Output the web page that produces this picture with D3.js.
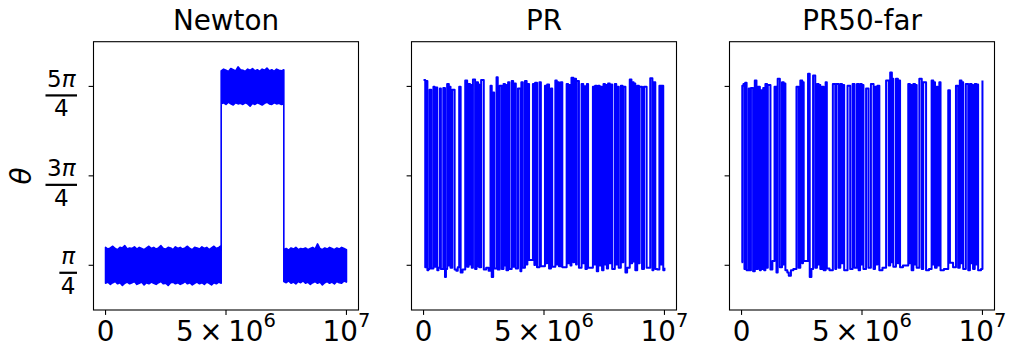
<!DOCTYPE html>
<html><head><meta charset="utf-8">
<script src="https://cdn.jsdelivr.net/npm/d3@7"></script>
<style>body{margin:0;background:#fff} text{font-family:"DejaVu Sans",sans-serif;fill:#000}</style>
</head><body><svg id="c" width="1010" height="347"></svg>
<script>
// ---------- data ----------
const titles = ["Newton", "PR", "PR50-far"];
const xTicks = [0, 5e6, 1e7];
const xTickMain = ["0", "5\u2009×\u200910", "10"];
const xTickSup = ["", "6", "7"];
const yTicks = [Math.PI / 4, 3 * Math.PI / 4, 5 * Math.PI / 4];
const yTickNumDigit = ["", "3", "5"];
const yTickDen = ["4", "4", "4"];
const yLabel = "θ";

// Newton: noisy band envelope (t in units of 1e6, θ low / high)
const newtonT = [0,0.1,0.2,0.3,0.4,0.5,0.6,0.7,0.8,0.9,1.0,1.1,1.2,1.3,1.4,1.5,1.6,1.7,1.8,1.9,2.0,2.1,2.2,2.3,2.4,2.5,2.6,2.7,2.8,2.9,
  3.0,3.1,3.2,3.3,3.4,3.5,3.6,3.7,3.8,3.9,4.0,4.1,4.2,4.3,4.4,4.5,4.6,4.7,4.8,
  4.8,4.9,5.0,5.1,5.2,5.3,5.4,5.5,5.6,5.7,5.8,5.9,6.0,6.1,6.2,6.3,6.4,6.5,6.6,6.7,6.8,6.9,7.0,7.1,7.2,7.3,7.4,
  7.4,7.5,7.6,7.7,7.8,7.9,8.0,8.1,8.2,8.3,8.4,8.5,8.6,8.7,8.8,8.9,9.0,9.1,9.2,9.3,9.4,9.5,9.6,9.7,9.8,9.9,10.0];
const newtonHi = [1.10,1.07,1.09,1.12,1.08,1.06,1.10,1.09,1.13,1.07,1.09,1.08,1.11,1.07,1.10,1.08,1.06,1.09,1.12,1.08,
  1.10,1.07,1.09,1.13,1.08,1.07,1.10,1.09,1.06,1.11,1.08,1.10,1.07,1.09,1.12,1.08,1.06,1.10,1.09,1.07,
  1.11,1.08,1.10,1.06,1.09,1.12,1.08,1.10,1.13,
  4.20,4.23,4.21,4.19,4.24,4.22,4.20,4.27,4.22,4.21,4.19,4.23,4.21,4.24,4.20,4.22,4.19,4.23,4.21,4.25,
  4.20,4.22,4.19,4.23,4.21,4.20,4.22,
  1.06,1.08,1.05,1.09,1.07,1.10,1.06,1.08,1.07,1.09,1.06,1.08,1.10,1.07,1.16,1.08,1.06,1.09,1.07,1.10,
  1.08,1.06,1.09,1.07,1.10,1.08,1.06];
const newtonLo = [0.47,0.49,0.45,0.48,0.50,0.46,0.48,0.43,0.47,0.49,0.46,0.48,0.50,0.45,0.47,0.49,0.44,0.48,0.46,0.49,
  0.47,0.45,0.48,0.50,0.46,0.47,0.43,0.48,0.49,0.46,0.48,0.45,0.47,0.50,0.46,0.48,0.44,0.47,0.49,0.46,
  0.48,0.45,0.49,0.47,0.44,0.48,0.46,0.49,0.47,
  3.62,3.64,3.61,3.65,3.62,3.60,3.64,3.62,3.63,3.61,3.64,3.62,3.58,3.63,3.61,3.64,3.62,3.60,3.63,3.65,
  3.62,3.61,3.64,3.62,3.63,3.61,3.62,
  0.50,0.48,0.51,0.47,0.49,0.46,0.50,0.48,0.51,0.47,0.49,0.45,0.48,0.50,0.47,0.49,0.44,0.48,0.50,0.47,
  0.49,0.46,0.50,0.48,0.47,0.51,0.49];

// PR: [t (1e6), θ]
const prPoints = [[0.00,4.04],[0.07,0.75],[0.12,4.02],[0.16,0.70],[0.20,0.72],[0.25,3.87],[0.32,0.73],[0.41,3.92],[0.46,0.76],
[0.52,3.91],[0.57,0.70],[0.62,0.74],[0.68,3.89],[0.72,0.72],[0.82,3.90],[0.89,0.58],[0.93,0.72],[0.98,3.97],[1.05,0.78],
[1.08,3.92],[1.12,0.74],[1.19,3.87],[1.29,0.71],[1.36,0.69],[1.42,0.75],[1.48,3.92],[1.54,0.66],[1.62,0.71],[1.73,4.03],
[1.81,0.76],[1.87,3.97],[1.93,0.80],[1.96,3.95],[2.00,0.74],[2.05,4.05],[2.14,0.72],[2.20,4.00],[2.26,0.77],[2.28,3.96],
[2.31,0.75],[2.39,4.04],[2.50,0.71],[2.60,0.74],[2.70,0.69],[2.78,3.94],[2.83,0.58],[2.89,3.82],[2.93,0.73],[3.03,4.09],
[3.08,0.71],[3.16,3.94],[3.25,0.72],[3.32,3.97],[3.38,0.78],[3.40,3.95],[3.44,0.70],[3.51,4.00],[3.56,0.72],[3.66,4.02],
[3.72,0.76],[3.76,3.98],[3.83,0.73],[3.92,3.89],[4.02,0.68],[4.06,4.00],[4.12,0.74],[4.21,4.02],[4.28,0.80],[4.31,3.97],
[4.38,0.88],[4.54,3.97],[4.60,0.79],[4.63,3.99],[4.71,0.75],[4.81,4.00],[4.87,0.77],[5.04,3.94],[5.10,0.82],[5.13,3.96],
[5.21,0.73],[5.29,3.89],[5.34,0.76],[5.47,4.03],[5.53,0.80],[5.56,4.00],[5.62,0.77],[5.70,4.00],[5.76,0.75],[5.94,3.97],
[6.00,0.82],[6.03,3.95],[6.10,0.78],[6.14,4.08],[6.22,0.84],[6.25,4.06],[6.33,0.80],[6.36,4.02],[6.45,0.74],[6.56,3.97],
[6.63,0.82],[6.66,3.93],[6.72,0.72],[6.78,3.97],[6.83,0.74],[7.03,3.92],[7.09,0.80],[7.12,3.94],[7.19,0.68],[7.25,3.94],
[7.31,0.78],[7.34,3.92],[7.41,0.70],[7.47,3.97],[7.53,0.80],[7.56,3.95],[7.61,0.73],[7.66,3.98],[7.73,0.82],[7.76,3.96],
[7.83,0.72],[7.94,3.97],[8.00,0.80],[8.03,3.92],[8.10,0.74],[8.19,3.94],[8.26,0.84],[8.29,3.92],[8.38,0.66],[8.45,0.74],
[8.56,4.05],[8.63,0.82],[8.66,4.00],[8.72,0.85],[8.75,3.98],[8.79,0.70],[8.87,3.94],[8.94,0.82],[8.97,3.92],[9.07,0.72],
[9.15,3.92],[9.26,0.74],[9.41,4.07],[9.50,0.70],[9.54,4.00],[9.62,0.72],[9.70,0.71],[9.79,3.94],[9.85,0.80],[9.88,3.94],
[9.95,0.70],[10.00,0.74]];

// PR50-far: [t (1e6), θ]
const pr50Points = [[0.00,0.84],[0.03,3.94],[0.08,3.97],[0.12,0.72],[0.15,3.99],[0.21,0.70],[0.30,3.89],[0.36,0.70],[0.39,3.90],
[0.48,0.68],[0.55,4.03],[0.62,0.72],[0.68,3.92],[0.76,0.70],[0.80,3.86],[0.86,0.72],[0.90,3.90],[0.94,0.70],[0.99,3.97],
[1.06,0.74],[1.09,3.95],[1.20,0.71],[1.28,0.86],[1.37,3.92],[1.45,0.66],[1.50,4.06],[1.59,0.75],[1.68,4.00],[1.75,0.80],
[1.78,3.98],[1.82,0.70],[1.90,0.66],[1.96,0.60],[2.05,0.70],[2.15,0.72],[2.28,3.92],[2.37,0.74],[2.44,4.03],[2.52,0.82],
[2.55,4.00],[2.58,0.86],[2.76,4.15],[2.83,0.58],[2.90,0.72],[2.97,4.12],[3.06,0.74],[3.13,3.97],[3.20,0.80],[3.23,3.95],
[3.27,0.72],[3.34,3.92],[3.41,0.70],[3.49,4.00],[3.54,0.73],[3.65,0.70],[3.79,3.97],[3.89,0.72],[3.93,3.97],[4.03,0.74],
[4.10,3.97],[4.17,0.82],[4.20,3.95],[4.26,0.70],[4.40,3.94],[4.51,0.72],[4.61,3.97],[4.69,0.74],[4.79,3.97],[4.86,0.70],
[4.92,3.97],[4.99,0.80],[5.02,3.95],[5.06,0.72],[5.17,3.89],[5.27,0.74],[5.37,3.97],[5.48,0.72],[5.54,3.92],[5.61,0.80],
[5.64,3.94],[5.72,0.70],[5.85,0.74],[6.00,4.03],[6.11,0.78],[6.17,4.17],[6.24,0.84],[6.26,4.06],[6.30,0.76],[6.41,4.06],
[6.49,0.82],[6.52,4.03],[6.58,0.75],[6.70,0.78],[6.92,3.97],[6.99,0.82],[7.02,3.95],[7.06,0.70],[7.13,3.97],[7.20,0.80],
[7.23,3.95],[7.27,0.74],[7.38,4.06],[7.48,0.72],[7.54,4.00],[7.66,0.70],[7.78,0.72],[7.89,4.03],[7.96,0.80],[7.99,4.00],
[8.03,0.74],[8.10,3.92],[8.14,0.78],[8.21,4.00],[8.26,0.70],[8.40,0.72],[8.58,3.86],[8.65,0.83],[8.78,0.75],[8.90,3.94],
[8.99,0.74],[9.06,4.03],[9.13,0.82],[9.16,4.00],[9.20,0.72],[9.31,3.97],[9.41,0.70],[9.48,3.97],[9.55,0.82],[9.58,3.95],
[9.61,0.72],[9.68,3.97],[9.75,0.80],[9.78,3.96],[9.82,0.70],[9.94,0.72],[10.00,4.03]];

// ---------- layout ----------
const svg = d3.select("#c");
const W = 265, plotTop = 41.7, plotBottom = 310;
const lefts = [93.5, 411.5, 729.5];
const blue = "#0000ff";
const tickLen = 4.9;

const y = d3.scaleLinear().domain([0, 1.5 * Math.PI]).range([plotBottom, plotTop]);

lefts.forEach((L, p) => {
  const x = d3.scaleLinear().domain([-0.5e6, 10.5e6]).range([L, L + W]);
  const g = svg.append("g");

  if (p === 0) {
    const band = newtonT.map((t, i) => ({t: t * 1e6, lo: newtonLo[i], hi: newtonHi[i]}));
    const area = d3.area().x(d => x(d.t)).y0(d => y(d.lo)).y1(d => y(d.hi));
    g.append("path").attr("d", area(band)).attr("fill", blue)
      .attr("stroke", blue).attr("stroke-width", 1.6).attr("stroke-linejoin", "round");
  } else {
    const pts = p === 1 ? prPoints : pr50Points;
    const line = d3.line().x(d => x(d[0] * 1e6)).y(d => y(d[1])).curve(d3.curveStepAfter);
    g.append("path").attr("d", line(pts)).attr("fill", "none")
      .attr("stroke", blue).attr("stroke-width", 2).attr("stroke-linejoin", "round");
  }

  // frame
  g.append("rect").attr("x", L).attr("y", plotTop).attr("width", W).attr("height", plotBottom - plotTop)
    .attr("fill", "none").attr("stroke", "#000").attr("stroke-width", 1.1);

  // x ticks
  xTicks.forEach((v, i) => {
    const xx = x(v);
    g.append("line").attr("x1", xx).attr("x2", xx).attr("y1", plotBottom).attr("y2", plotBottom + tickLen)
      .attr("stroke", "#000").attr("stroke-width", 1.1);
    const t = g.append("text").attr("x", xx).attr("y", 341).attr("text-anchor", "middle")
      .style("font-size", "27.8px");
    t.append("tspan").text(xTickMain[i]);
    if (xTickSup[i]) t.append("tspan").attr("dy", -14).style("font-size", "19.5px").text(xTickSup[i]);
  });

  // y ticks
  yTicks.forEach((v, i) => {
    const yy = y(v);
    g.append("line").attr("x1", L - tickLen).attr("x2", L).attr("y1", yy).attr("y2", yy)
      .attr("stroke", "#000").attr("stroke-width", 1.1);
    if (p === 0) {
      const barRight = L - 16.5;
      const barY = yy + (yTickNumDigit[i] ? 9 : 7.5);
      const num = g.append("text").attr("y", barY - 8.5).attr("text-anchor", "middle").style("font-size", "23px");
      if (yTickNumDigit[i]) num.append("tspan").text(yTickNumDigit[i]);
      num.append("tspan").style("font-style", "italic").text("π");
      const den = g.append("text").attr("y", barY + 21).attr("text-anchor", "middle").style("font-size", "23px").text(yTickDen[i]);
      const w = Math.max(num.node().getComputedTextLength(), den.node().getComputedTextLength()) + 3;
      const cx = barRight - w / 2;
      num.attr("x", cx); den.attr("x", cx);
      g.append("rect").attr("x", barRight - w).attr("y", barY - 1.1).attr("width", w).attr("height", 2.2).attr("fill", "#000");
    }
  });

  // title
  g.append("text").attr("x", L + W / 2).attr("y", 30).attr("text-anchor", "middle")
    .style("font-size", "27.8px").text(titles[p]);
});

// y label
svg.append("text").attr("transform", "translate(31,176) rotate(-90)").attr("text-anchor", "middle")
  .style("font-size", "28px").style("font-style", "italic").text(yLabel);
</script></body></html>
